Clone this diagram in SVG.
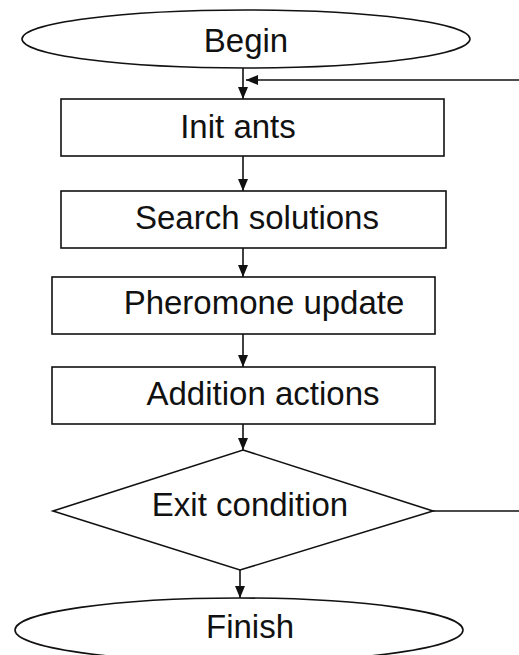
<svg xmlns="http://www.w3.org/2000/svg" width="519" height="655" viewBox="0 0 519 655">
<defs>
<style>
.s{fill:#fff;stroke:#111;stroke-width:1.6}
.t{font-family:"Liberation Sans",Arial,sans-serif;font-size:33px;fill:#111;text-anchor:middle}
.c{fill:none;stroke:#111;stroke-width:1.6}
</style>
<marker id="ah" viewBox="0 0 12 10" refX="12" refY="5" markerWidth="12" markerHeight="10" markerUnits="userSpaceOnUse" orient="auto">
<path d="M0,0 L12,5 L0,10 z" fill="#111"/>
</marker>
</defs>
<rect width="519" height="655" fill="#fff"/>
<g id="connectors">
<path class="c" d="M243 68 V99" marker-end="url(#ah)"/>
<path class="c" d="M243 156 V191" marker-end="url(#ah)"/>
<path class="c" d="M243 248 V277" marker-end="url(#ah)"/>
<path class="c" d="M243 334 V367" marker-end="url(#ah)"/>
<path class="c" d="M243 424 V450" marker-end="url(#ah)"/>
<path class="c" d="M240 570 V598" marker-end="url(#ah)"/>
<path class="c" d="M433 511 H530 V80 H246" marker-end="url(#ah)"/>
</g>
<g id="begin">
<ellipse class="s" cx="246" cy="39" rx="224" ry="29"/>
<text class="t" x="246" y="52">Begin</text>
</g>
<g id="init">
<rect class="s" x="61" y="99" width="383" height="57"/>
<text class="t" x="238" y="138">Init ants</text>
</g>
<g id="search">
<rect class="s" x="61" y="191" width="385" height="57"/>
<text class="t" x="257" y="229">Search solutions</text>
</g>
<g id="pheromone">
<rect class="s" x="52" y="277" width="383" height="57"/>
<text class="t" x="264" y="314">Pheromone update</text>
</g>
<g id="addition">
<rect class="s" x="52" y="367" width="383" height="57"/>
<text class="t" x="263" y="405">Addition actions</text>
</g>
<g id="exit">
<polygon class="s" points="243,450 433,511 240,570 53,511"/>
<text class="t" x="250" y="516">Exit condition</text>
</g>
<g id="finish">
<ellipse class="s" cx="239" cy="630" rx="224" ry="32"/>
<text class="t" x="250" y="638">Finish</text>
</g>
</svg>
